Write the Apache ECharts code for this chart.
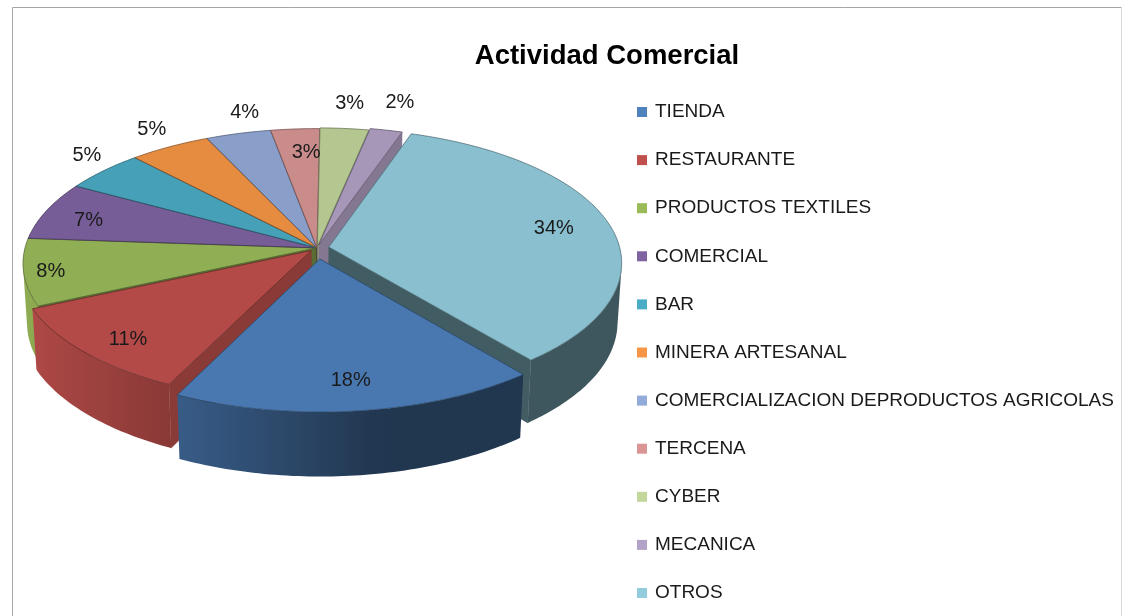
<!DOCTYPE html>
<html>
<head>
<meta charset="utf-8">
<script src="https://cdn.jsdelivr.net/npm/echarts@6/dist/echarts.min.js"></script>
<style>
  html, body { margin: 0; padding: 0; background: #ffffff; }
  #chart { width: 1124px; height: 616px; }
</style>
</head>
<body>
<div id="chart"></div>
<script>
// ---- data ----
const categories = [
  'TIENDA', 'RESTAURANTE', 'PRODUCTOS TEXTILES', 'COMERCIAL', 'BAR',
  'MINERA ARTESANAL', 'COMERCIALIZACION DEPRODUCTOS AGRICOLAS', 'TERCENA',
  'CYBER', 'MECANICA', 'OTROS'
];
const shares = [18, 11, 8, 7, 5, 5, 4, 3, 3, 2, 34];

// ---- styling ----
const palette = ['#4F81BD', '#C0504D', '#9BBB59', '#8064A2', '#4BACC6', '#F79646',
                 '#93ABD9', '#D99694', '#C3D69B', '#B3A2C7', '#93CDDD'];
// how far each slice is pulled out of the pie (px in the pie plane)
const explode = [24, 8, 1, 1, 1, 1, 1, 1, 3, 7, 12];
// label anchor: radius as a fraction of R, and position across the slice (0..1)
const labelRadius = [0.82, 0.85, 0.91, 0.83, 1.14, 1.18, 1.19, 0.78, 1.24, 1.27, 0.80];
const labelAlong  = [0.50, 0.44, 0.47, 0.43, 0.66, 0.57, 0.76, 0.67, 0.49, 0.44, 0.50];

// ---- 3D pie geometry ----
const START = 141;            // first slice angle, degrees clockwise from 12 o'clock
const CX = 317, CY = 248;     // screen position of the pie centre (top face)
const R = 291, H = 67;        // radius and thickness in pie units
const SIN_T = 0.456, COS_T = 0.890;  // viewing tilt
const DIST = 2253;            // camera distance (perspective)

const total = shares.reduce((a, b) => a + b, 0);
const startAngles = [];
(function () { let acc = 0; shares.forEach(v => { startAngles.push(START + acc / total * 360); acc += v; }); })();

const rad = d => d * Math.PI / 180;
function project(X, Y, Z) {
  const up = Y * COS_T - Z * SIN_T;
  const depth = Z * COS_T + Y * SIN_T;
  const s = DIST / (DIST - depth);
  return [CX + X * s, CY - up * s];
}
function rimXZ(theta, r, off) {
  const t = rad(theta);
  return [off[0] + r * Math.sin(t), off[1] - r * Math.cos(t)];
}
function shade(hex, f) {
  const n = parseInt(hex.slice(1), 16);
  const c = [(n >> 16) & 255, (n >> 8) & 255, n & 255].map(x => Math.min(255, Math.round(x * f)));
  return 'rgb(' + c.join(',') + ')';
}
// side-wall lighting, light coming from the left
const wallLight = theta => 0.42 + 0.5 * Math.max(0, Math.cos(rad(theta - 260)));
// lighting of the flat cut faces, by the direction their normal points
const faceLight = normal => 0.45 + 0.3 * Math.max(0, Math.sin(rad(normal)));

// the outer wall is seen only where it faces the camera
const VIS = Math.acos(-R / (DIST * COS_T)) * 180 / Math.PI;

function renderSlice(params, api) {
  const i = params.dataIndex;
  const v = api.value(0);
  const a1 = startAngles[i];
  const a2 = a1 + v / total * 360;
  const mid = (a1 + a2) / 2;
  const color = palette[i];
  const e = explode[i];
  const off = [e * Math.sin(rad(mid)), -e * Math.cos(rad(mid))];
  const children = [];

  // radial cut faces (visible only when they turn toward the viewer)
  const camZ = DIST * COS_T;
  const faces = [
    { ang: a1, normal: a1 - 90, vis: Math.cos(rad(a1)) * off[0] - Math.sin(rad(a1)) * (camZ - off[1]) },
    { ang: a2, normal: a2 + 90, vis: -Math.cos(rad(a2)) * off[0] + Math.sin(rad(a2)) * (camZ - off[1]) }
  ];
  faces.forEach(f => {
    if (f.vis <= 0) return;
    const rim = rimXZ(f.ang, R, off);
    const pts = [
      project(off[0], 0, off[1]), project(rim[0], 0, rim[1]),
      project(rim[0], -H, rim[1]), project(off[0], -H, off[1])
    ];
    const zMid = (off[1] + rim[1]) / 2;
    const fill = shade(color, faceLight(f.normal));
    children.push({
      type: 'polygon', z2: 100 + zMid / 10,
      shape: { points: pts },
      style: { fill: fill, stroke: fill, lineWidth: 0.5 }
    });
  });

  // outer wall: one shape per visible stretch, shaded with a horizontal gradient
  for (let k = -1; k <= 2; k++) {
    const lo = Math.max(a1, VIS + 360 * k);
    const hi = Math.min(a2, 360 - VIS + 360 * k);
    if (hi <= lo) continue;
    const n = Math.max(2, Math.ceil(hi - lo));
    const upper = [], lower = [], samples = [];
    for (let j = 0; j <= n; j++) {
      const t = lo + (hi - lo) * j / n;
      const p = rimXZ(t, R, off);
      const pt = project(p[0], 0, p[1]);
      upper.push(pt);
      lower.push(project(p[0], -H, p[1]));
      samples.push({ x: pt[0], c: shade(color, wallLight(t)) });
    }
    let xmin = Infinity, xmax = -Infinity;
    samples.forEach(s => { xmin = Math.min(xmin, s.x); xmax = Math.max(xmax, s.x); });
    let fill;
    if (xmax - xmin < 1) {
      fill = samples[0].c;
    } else {
      const step = Math.max(1, Math.floor(samples.length / 12));
      const stops = [];
      for (let j = 0; j < samples.length; j += step) stops.push(samples[j]);
      if (stops[stops.length - 1] !== samples[samples.length - 1]) stops.push(samples[samples.length - 1]);
      stops.sort((a, b) => a.x - b.x);
      fill = {
        type: 'linear', x: xmin, y: 0, x2: xmax, y2: 0, global: true,
        colorStops: stops.map(s => ({ offset: (s.x - xmin) / (xmax - xmin), color: s.c }))
      };
    }
    const zm = rimXZ((lo + hi) / 2, R, off)[1];
    children.push({
      type: 'polygon', z2: 1000 + zm / 10,
      shape: { points: upper.concat(lower.reverse()) },
      style: { fill: fill }
    });
  }

  // top face
  const top = [project(off[0], 0, off[1])];
  const n = Math.max(2, Math.ceil(a2 - a1));
  for (let j = 0; j <= n; j++) {
    const p = rimXZ(a1 + (a2 - a1) * j / n, R, off);
    top.push(project(p[0], 0, p[1]));
  }
  children.push({
    type: 'polygon', z2: 3000,
    shape: { points: top },
    style: { fill: shade(color, 0.93), stroke: shade(color, 0.55), lineWidth: 0.8, lineJoin: 'round' }
  });

  // percentage label
  const la = a1 + (a2 - a1) * labelAlong[i];
  const lp = rimXZ(la, R * labelRadius[i], off);
  const xy = project(lp[0], 0, lp[1]);
  children.push({
    type: 'text', z2: 4000,
    x: xy[0], y: xy[1],
    style: {
      text: Math.round(v / total * 100) + '%',
      font: '20px "Liberation Sans", Arial, sans-serif',
      fill: '#1a1a1a',
      align: 'center', verticalAlign: 'middle',
      textAlign: 'center', textVerticalAlign: 'middle'
    }
  });

  return { type: 'group', children: children };
}

const chart = echarts.init(document.getElementById('chart'), null, { renderer: 'canvas' });
chart.setOption({
  animation: false,
  backgroundColor: '#ffffff',
  color: palette,
  graphic: [
    { type: 'line', shape: { x1: 12.5, y1: 7.5, x2: 1121.5, y2: 7.5 }, style: { stroke: '#a6a6a6', lineWidth: 1 }, silent: true },
    { type: 'line', shape: { x1: 12.5, y1: 7.5, x2: 12.5, y2: 616 }, style: { stroke: '#a6a6a6', lineWidth: 1 }, silent: true },
    { type: 'line', shape: { x1: 1121.5, y1: 7.5, x2: 1121.5, y2: 616 }, style: { stroke: '#dadada', lineWidth: 1 }, silent: true },
    {
      type: 'text', x: 607, y: 56, silent: true,
      style: {
        text: 'Actividad Comercial',
        font: 'bold 27.5px "Liberation Sans", Arial, sans-serif',
        fill: '#000000',
        align: 'center', verticalAlign: 'middle',
        textAlign: 'center', textVerticalAlign: 'middle'
      }
    }
  ],
  legend: {
    orient: 'vertical',
    left: 637, top: 102, padding: 0,
    itemWidth: 10, itemHeight: 10, itemGap: 28.1,
    icon: 'rect',
    selectedMode: false,
    textStyle: { fontFamily: '"Liberation Sans", Arial, sans-serif', fontSize: 19, lineHeight: 20, color: '#1a1a1a', padding: [0, 0, 0, 3] },
    data: categories
  },
  series: [
    {
      // supplies the legend entries; the 3D slices are drawn by the custom series
      type: 'pie', radius: [0, 0], center: [-50, -50], silent: true,
      label: { show: false }, labelLine: { show: false },
      data: categories.map((name, i) => ({ name: name, value: shares[i] }))
    },
    {
      type: 'custom', coordinateSystem: 'none', silent: true,
      renderItem: renderSlice,
      data: shares.map((v, i) => ({ name: categories[i], value: v }))
    }
  ]
});
</script>
</body>
</html>
